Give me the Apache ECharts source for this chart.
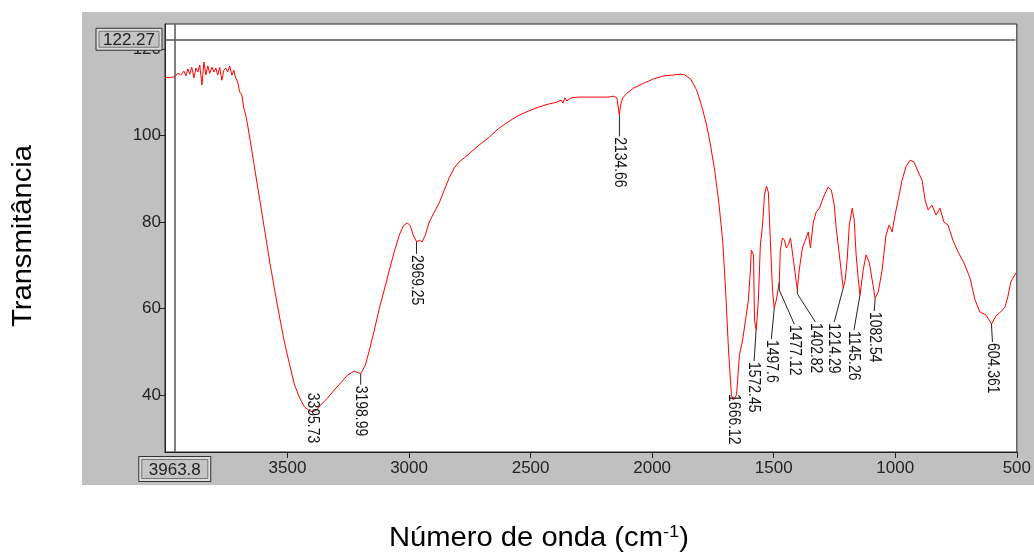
<!DOCTYPE html>
<html><head><meta charset="utf-8">
<script src="https://cdn.jsdelivr.net/npm/echarts@6/dist/echarts.min.js"></script>
<style>html,body{margin:0;padding:0;background:#fff;}#c{width:1034px;height:552px;}</style>
</head><body><div id="c"></div>
<script>
// ---- data ----
const wavenumber = [4004,3984,3963,3951,3939,3926,3918,3910,3902,3894,3885,3877,3869,3861,3852,3844,3836,3828,3820,3811,3803,3795,3787,3779,3770,3762,3754,3746,3738,3729,3721,3713,3705,3697,3688,3680,3672,3664,
3647,3631,3614,3594,3573,3553,3532,3512,3491,3471,3450,3430,3409,3396,3381,3360,3335,3307,3278,3253,3225,3208,3199,3180,3163,3143,3122,3102,3081,3061,3040,3024,3007,2995,2983,2969,2958,2946,2933,2917,2896,2876,2855,2835,2814,2794,2769,2745,2712,2671,2630,2589,2548,2507,2466,2425,2392,2375,2367,2359,2351,2334,2301,2260,2219,2178,2158,2145,2135,2129,2121,2104,2076,2035,1994,1953,1912,1883,1866,1842,1817,1797,1776,1760,1743,1727,1710,1698,1686,1674,1666,1653,1641,1628,1616,1604,1596,1592,1583,1579,1572,1563,1555,1546,1538,1530,1522,1514,1505,1498,1489,1477,1473,1464,1456,1448,1440,1431,1419,1403,1395,1382,1370,1358,1349,1337,1325,1312,1300,1288,1276,1263,1251,1243,1230,1214,1206,1198,1189,1177,1169,1161,1152,1145,1132,1120,1107,1095,1083,1070,1054,1038,1025,1013,1001,988,972,955,939,923,906,890,877,865,849,832,816,800,783,763,742,717,693,672,652,627,604,586,570,549,537,525,504];
const transmittance = [113.4,113.4,113.6,114.4,114.0,114.9,113.8,115.4,114.2,115.8,113.3,115.6,114.7,116.3,111.7,117.0,114.0,116.1,114.4,115.8,114.7,115.6,114.0,115.8,112.8,115.1,115.6,114.7,116.1,114.0,115.1,113.3,112.4,110.1,109.4,106.4,104.7,102.4,
96.6,90.9,85.1,78.1,70.7,64.3,57.8,52.0,46.9,42.3,39.3,37.2,36.3,36.1,36.5,37.9,39.3,41.2,43.0,44.6,45.5,45.1,44.9,46.9,50.4,55.0,60.1,64.3,68.9,73.1,77.0,79.1,79.8,79.1,77.0,75.4,75.8,75.4,77.0,80.0,82.3,84.4,87.4,90.2,92.5,93.9,95.0,96.2,97.8,99.6,101.7,103.3,104.7,105.7,106.6,107.3,107.7,108.2,107.5,108.7,108.0,108.7,108.9,108.9,108.9,108.9,109.1,108.7,104.7,107.3,108.7,109.8,111.0,112.1,113.1,113.8,114.0,114.2,114.0,113.1,110.5,107.0,102.4,97.8,92.0,85.1,75.8,64.3,50.4,40.0,38.8,40.0,49.2,52.7,57.3,62.0,68.9,73.5,72.4,57.3,55.0,62.0,74.7,79.3,86.2,88.3,86.9,75.8,64.3,60.1,62.0,66.1,73.5,76.3,75.8,74.0,74.7,76.3,71.2,64.3,68.9,74.0,75.8,77.7,74.0,80.0,82.3,83.2,85.1,86.7,88.1,87.4,83.9,78.6,72.4,64.7,66.6,71.2,79.3,83.2,80.5,72.4,66.6,63.1,68.9,72.4,70.7,66.6,62.4,63.8,68.9,77.0,79.3,77.7,81.6,85.1,89.7,92.9,94.3,93.9,91.6,89.7,85.1,82.8,83.9,81.6,83.2,80.0,79.3,75.8,73.1,70.5,67.1,62.0,59.2,58.5,56.4,58.3,59.0,60.3,62.7,66.1,68.2];
const peakWavenumber = [3395.73,3198.99,2969.25,2134.66,1666.12,1572.45,1497.6,1477.12,1402.82,1214.29,1145.26,1082.54,604.361];
const peakTransmittance = [36.1,44.9,75.4,104.7,38.8,55.0,60.1,66.1,64.3,64.7,63.1,62.4,56.4];
const peakLabels = ['3395.73','3198.99','2969.25','2134.66','1666.12','1572.45','1497.6','1477.12','1402.82','1214.29','1145.26','1082.54','604.361'];
const xTicks = [3500,3000,2500,2000,1500,1000,500];
const yTicks = [40,60,80,100,120];
const cursorWavenumber = 3963.8;
const cursorTransmittance = 122.27;
const cursorXLabel = '3963.8';
const cursorYLabel = '122.27';
const xAxisMin = 500, xAxisMax = 4004, yAxisMin = 26.8, yAxisMax = 125.8;

// ---- label layout (pixel offsets, styling only) : [leaderDx, leaderDy, bendDy, showLeader]
const peakLayout = [
  [0,-20,0,0],[0,11,0,1],[0,12,0,1],[0,21,0,1],[0,-7,0,0],[-2,31,0,1],[-3,31,0,1],
  [15,42,8,1],[18,32,4,1],[-9,34,0,1],[-6,35,0,1],[-1,13,0,1],[1,18,0,1]
];

const FONT = '"Liberation Sans", Arial, sans-serif';
const chart = echarts.init(document.getElementById('c'), null, {renderer:'canvas'});
const tickFont = {color:'#222', fontSize:17, fontFamily:FONT, formatter:function(v){return String(v);}};
const option = {
  animation:false,
  backgroundColor:'#ffffff',
  grid:{left:165, top:24, right:14, bottom:100, show:true, backgroundColor:'#ffffff', borderColor:'#222', borderWidth:1, containLabel:false},
  xAxis:{type:'value', inverse:true, min:xAxisMin, max:xAxisMax,
    axisLine:{show:true, onZero:false, lineStyle:{color:'#222', width:1}},
    axisTick:{show:true, length:6, inside:false, customValues:xTicks, lineStyle:{color:'#222'}},
    axisLabel:Object.assign({margin:8, customValues:xTicks}, tickFont),
    splitLine:{show:false}},
  yAxis:{type:'value', min:yAxisMin, max:yAxisMax,
    axisLine:{show:true, onZero:false, lineStyle:{color:'#222', width:1}},
    axisTick:{show:true, length:6, inside:false, customValues:yTicks, lineStyle:{color:'#222'}},
    axisLabel:Object.assign({margin:4, customValues:yTicks}, tickFont),
    splitLine:{show:false}},
  graphic:[
    {type:'rect', id:'panel', silent:true, z:-100, shape:{x:82,y:12,width:952,height:473}, style:{fill:'#c0c0c0'}},
    {type:'text', id:'ytitle', silent:true, x:24, y:236, rotation:Math.PI/2, scaleX:1.08,
      style:{text:'Transmitância', fill:'#000', font:'27px ' + FONT, align:'center', verticalAlign:'middle'}},
    {type:'text', id:'xtitle', silent:true, x:539, y:539, scaleX:1.08,
      style:{text:'Número de onda (cm{sup|-1})', fill:'#000', font:'27px ' + FONT, align:'center', verticalAlign:'middle',
        rich:{sup:{fontSize:17, fontFamily:FONT, fill:'#000', padding:[0,0,14,0]}}}}
  ],
  series:[
    {type:'line', name:'spectrum', data:wavenumber.map((w,i)=>[w, transmittance[i]]),
      showSymbol:false, symbol:'none', smooth:false, lineStyle:{color:'#ff0000', width:1}, z:3,
      markLine:{silent:true, symbol:['none','none'], label:{show:false}, lineStyle:{color:'#555', width:1.5, type:'solid'},
        data:[
          [{coord:[xAxisMax, cursorTransmittance]},{coord:[xAxisMin+6, cursorTransmittance]}],
          [{coord:[cursorWavenumber, yAxisMin]},{coord:[cursorWavenumber, yAxisMax]}]
        ]}},
    {type:'custom', name:'peaks', z:5, silent:true,
      data:peakWavenumber.map((w,i)=>[w, peakTransmittance[i]]),
      renderItem:function(params, api){
        const i = params.dataIndex;
        const p = api.coord([api.value(0), api.value(1)]);
        const lay = peakLayout[i];
        const end = [p[0]+lay[0], p[1]+lay[1]];
        const children = [];
        if (lay[3]) {
          const pts = lay[2] ? [p, [p[0], p[1]+lay[2]], end] : [p, end];
          children.push({type:'polyline', shape:{points:pts}, style:{stroke:'#222', lineWidth:1, fill:null}});
        }
        children.push({type:'text', x:end[0], y:end[1]+1, rotation:-Math.PI/2, scaleX:0.82,
          style:{text:peakLabels[i], fill:'#111', font:'17px ' + FONT, align:'left', verticalAlign:'middle'}});
        return {type:'group', children:children};
      }}
  ]
};
chart.setOption(option);

// cursor read-out boxes, positioned from the axes
function box(id, cx, cy, w, h, text){
  return [
    {type:'rect', id:id+'o', z:50, silent:true, shape:{x:cx-w/2, y:cy-h/2, width:w, height:h}, style:{fill:'#dcdcdc', stroke:'#333', lineWidth:1}},
    {type:'rect', id:id+'i', z:51, silent:true, shape:{x:cx-w/2+3, y:cy-h/2+3, width:w-6, height:h-6}, style:{fill:'#c4c4c4', stroke:'#777', lineWidth:1}},
    {type:'text', id:id+'t', z:52, silent:true, x:cx, y:cy+1, style:{text:text, fill:'#222', font:'17px ' + FONT, align:'center', verticalAlign:'middle'}}
  ];
}
const pY = chart.convertToPixel({gridIndex:0}, [xAxisMax, cursorTransmittance]);
const pX = chart.convertToPixel({gridIndex:0}, [cursorWavenumber, yAxisMin]);
chart.setOption({graphic: [].concat(
  box('by', pY[0]-36, pY[1], 66, 22, cursorYLabel),
  box('bx', pX[0], pX[1]+17, 72, 25, cursorXLabel)
)});
</script></body></html>
